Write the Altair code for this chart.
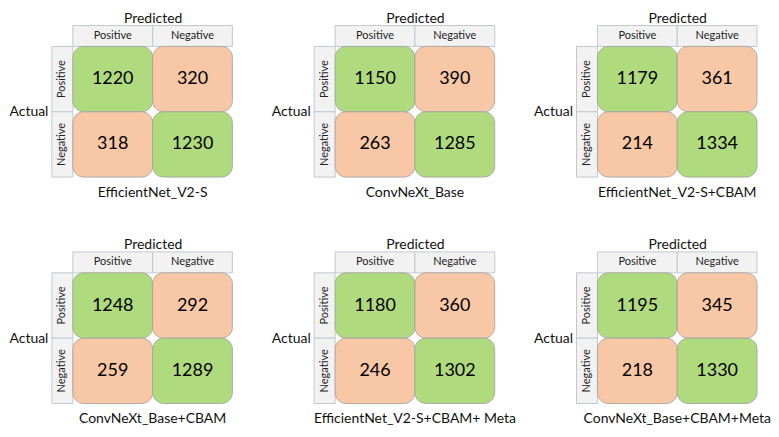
import altair as alt
import pandas as pd

models = ["EfficientNet_V2-S", "ConvNeXt_Base", "EfficientNet_V2-S+CBAM",
          "ConvNeXt_Base+CBAM", "EfficientNet_V2-S+CBAM+ Meta", "ConvNeXt_Base+CBAM+Meta"]
tp = [1220, 1150, 1179, 1248, 1180, 1195]
fn = [320, 390, 361, 292, 360, 345]
fp = [318, 263, 214, 259, 246, 218]
tn = [1230, 1285, 1334, 1289, 1302, 1330]
classes = ["Positive", "Negative"]

GREEN = "#b0da7e"
ORANGE = "#f8c7a5"
FONT = "Lato"

CELL_W, CELL_H, HDR = 80, 65.5, 21
W = HDR + 2 * CELL_W
H = HDR + 2 * CELL_H
xdom = [-HDR / CELL_W, 2]
ydom = [-HDR / CELL_H, 2]


def panel(i):
    rows = []
    vals = [[tp[i], fn[i]], [fp[i], tn[i]]]
    for r, a in enumerate(classes):
        for c, p in enumerate(classes):
            rows.append({"actual": a, "predicted": p, "value": vals[r][c],
                         "kind": "correct" if a == p else "wrong"})
    df = pd.DataFrame(rows)
    hdr = pd.DataFrame({"label": classes})

    xs = alt.Scale(domain=xdom, nice=False, zero=False)
    ys = alt.Scale(domain=ydom, nice=False, zero=False, reverse=True)
    xax = alt.Axis(orient="top", title="Predicted", labels=False, ticks=False, domain=False,
                   grid=False, titleFont=FONT, titleFontSize=14, titleFontWeight="normal",
                   titleColor="#111", titlePadding=0, titleX=HDR + CELL_W)
    yax = alt.Axis(title="Actual", labels=False, ticks=False, domain=False, grid=False,
                   titleFont=FONT, titleFontSize=14, titleFontWeight="normal", titleColor="#111",
                   titleAngle=0, titleAlign="right", titleBaseline="middle", titlePadding=4,
                   titleY=HDR + CELL_H)

    base = alt.Chart(df).transform_calculate(
        col="datum.predicted == 'Positive' ? 0 : 1",
        row="datum.actual == 'Positive' ? 0 : 1",
    ).transform_calculate(
        col1="datum.col + 1", row1="datum.row + 1",
        cx="datum.col + 0.5", cy="datum.row + 0.5",
    )
    cells = base.mark_rect(cornerRadius=11, stroke="#a0a0a0", strokeWidth=0.8).encode(
        x=alt.X("col:Q", scale=xs, axis=xax), x2="col1:Q",
        y=alt.Y("row:Q", scale=ys, axis=yax), y2="row1:Q",
        color=alt.Color("kind:N", scale=alt.Scale(domain=["correct", "wrong"], range=[GREEN, ORANGE]),
                        legend=None),
    )
    nums = base.mark_text(font=FONT, fontSize=18, color="#000").encode(
        x="cx:Q", y="cy:Q", text="value:Q")

    hb = alt.Chart(hdr).transform_window(idx="row_number()").transform_calculate(
        i0="datum.idx - 1", i1="datum.idx", im="datum.idx - 0.5",
        h0=str(ydom[0]), h1="0", hm=str(ydom[0] / 2),
        v0=str(xdom[0]), vm=str(xdom[0] / 2),
    )
    colbox = hb.mark_rect(fill="#f2f2f2", stroke="#c3c8d0", strokeWidth=1).encode(
        x="i0:Q", x2="i1:Q", y="h0:Q", y2="h1:Q")
    coltxt = hb.mark_text(font=FONT, fontSize=11, color="#222").encode(
        x="im:Q", y="hm:Q", text="label:N")
    rowbox = hb.mark_rect(fill="#f2f2f2", stroke="#c3c8d0", strokeWidth=1).encode(
        x="v0:Q", x2="h1:Q", y="i0:Q", y2="i1:Q")
    rowtxt = hb.mark_text(font=FONT, fontSize=11, color="#222", angle=270).encode(
        x="vm:Q", y="im:Q", text="label:N")

    return alt.layer(colbox, rowbox, coltxt, rowtxt, cells, nums).properties(
        width=W, height=H,
        title=alt.TitleParams(models[i], orient="bottom", font=FONT, fontSize=14,
                              fontWeight="normal", color="#111", offset=8, dx=HDR / 2),
    )


chart = alt.concat(*[panel(i) for i in range(6)], columns=3,
                   spacing={"row": 75, "column": 82}, bounds="flush").properties(
    padding={"left": 0, "top": 3, "right": 0, "bottom": 0}
).configure_view(stroke=None)

chart.save("out.html", embed_options={"renderer": "svg", "actions": False})
